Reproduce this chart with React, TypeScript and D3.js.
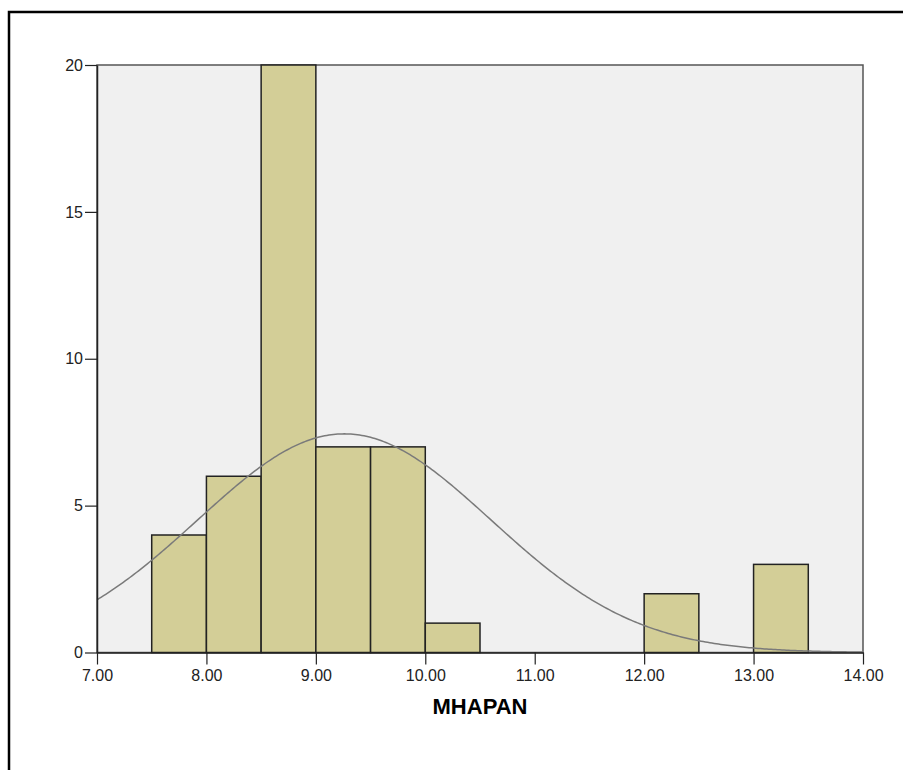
import React, { useEffect, useRef } from 'react';
import * as d3 from 'd3';

// histogram bins (lower edge) and counts
const binStarts = [7.5, 8.0, 8.5, 9.0, 9.5, 10.0, 12.0, 13.0];
const counts = [4, 6, 20, 7, 7, 1, 2, 3];
const binWidth = 0.5;
const xTicks = [7, 8, 9, 10, 11, 12, 13, 14];
const yTicks = [0, 5, 10, 15, 20];
// fitted normal curve parameters
const fitMean = 9.26;
const fitSd = 1.34;
const fitN = 50;
const xLabel = 'MHAPAN';

const font = 'Arial, "Liberation Sans", sans-serif';

function App() {
  const svgRef = useRef<SVGSVGElement>(null);

  useEffect(() => {
    const svg = d3.select(svgRef.current);
    svg.selectAll('*').remove();

    const left = 97, right = 863, top = 65, bottom = 652.5;

    const x = d3.scaleLinear().domain([7, 14]).range([left, right]);
    const y = d3.scaleLinear().domain([0, 20]).range([bottom, top]);

    // outer frame (clipped on right/bottom like the original)
    svg.append('rect')
      .attr('x', 9).attr('y', 12)
      .attr('width', 1200).attr('height', 1200)
      .attr('fill', 'none').attr('stroke', '#000').attr('stroke-width', 2.5);

    // plot background
    svg.append('rect')
      .attr('x', left).attr('y', top)
      .attr('width', right - left).attr('height', bottom - top)
      .attr('fill', '#f0f0f0').attr('stroke', '#555').attr('stroke-width', 1.5);

    // bars
    svg.selectAll('rect.bar')
      .data(binStarts)
      .enter()
      .append('rect')
      .attr('class', 'bar')
      .attr('x', d => x(d))
      .attr('y', (d, i) => y(counts[i]))
      .attr('width', x(binWidth) - x(0))
      .attr('height', (d, i) => bottom - y(counts[i]))
      .attr('fill', '#d3ce97')
      .attr('stroke', '#222')
      .attr('stroke-width', 1.5);

    // normal curve
    const pts = d3.range(7, 14.001, 0.02).map(v => {
      const z = (v - fitMean) / fitSd;
      return [v, fitN * binWidth * Math.exp(-0.5 * z * z) / (fitSd * Math.sqrt(2 * Math.PI))];
    });
    svg.append('path')
      .datum(pts)
      .attr('d', d3.line<number[]>().x(d => x(d[0])).y(d => y(d[1])))
      .attr('fill', 'none')
      .attr('stroke', '#7a7a7a')
      .attr('stroke-width', 1.5);

    // axes
    const xAxis = svg.append('g')
      .attr('transform', `translate(0,${bottom})`)
      .call(d3.axisBottom(x).tickValues(xTicks).tickFormat(d3.format('.2f')).tickSize(12).tickSizeOuter(0));
    const yAxis = svg.append('g')
      .attr('transform', `translate(${left},0)`)
      .call(d3.axisLeft(y).tickValues(yTicks).tickSize(12).tickSizeOuter(0));

    [xAxis, yAxis].forEach(g => {
      g.attr('font-size', 16).attr('font-family', font);
      g.select('.domain').attr('stroke', '#222').attr('stroke-width', 1.5);
      g.selectAll('.tick line').attr('stroke', '#222').attr('stroke-width', 1.2);
      g.selectAll('.tick text').attr('fill', '#222').attr('font-size', 16);
    });
    xAxis.selectAll('.tick text').attr('dy', '0.71em').attr('y', 17);
    yAxis.selectAll('.tick text').attr('x', -14);

    svg.append('text')
      .attr('x', (left + right) / 2)
      .attr('y', 714)
      .attr('text-anchor', 'middle')
      .attr('font-family', font)
      .attr('font-size', 22)
      .attr('font-weight', 'bold')
      .text(xLabel);
  }, []);

  return (
    <svg ref={svgRef} width="903" height="770"
      style={{ position: 'absolute', left: 0, top: 0, background: '#fff' }} />
  );
}

export default App;
